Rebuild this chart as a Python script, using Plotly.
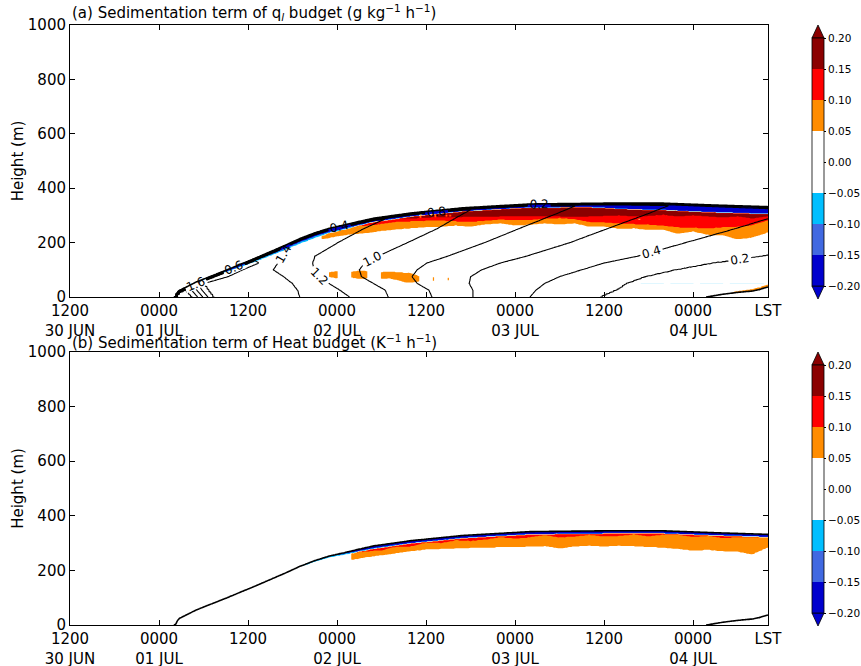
import numpy as np
import plotly.graph_objects as go

FONT = "DejaVu Sans"
T_END = 94.1  # hours after 1200 LST 30 JUN

# ---------------- axes / ticks ----------------
tick_hours = [0, 12, 24, 36, 48, 60, 72, 84, 94.09]
tick_labels = ["1200<br>30 JUN", "0000<br>01 JUL", "1200", "0000<br>02 JUL", "1200",
               "0000<br>03 JUL", "1200", "0000<br>04 JUL", "LST"]
height_ticks = [0, 200, 400, 600, 800, 1000]
cbar_ticks = [-0.20, -0.15, -0.10, -0.05, 0.00, 0.05, 0.10, 0.15, 0.20]

# ---------------- cloud boundary ----------------
top_t = [0, 14.2, 14.6, 17, 21, 25, 29, 31, 33, 35, 37, 39, 41, 46, 53, 62, 72, 80, 87, 94.1]
top_z = [-5, 0, 22, 55, 98, 143, 190, 215, 236, 253, 265, 278, 290, 309, 328, 342, 345, 345, 338, 332]
base_t = [0, 85.8, 88, 90, 92, 93, 94.1]
base_z = [-10, 0, 10, 17, 22, 28, 37]

# ---------------- contour-line field of panel (a): isoline times (h) at heights ----------------
iso_z = [0, 25, 50, 75, 100, 125, 150, 200, 250, 300, 350]
iso_levels = [2.6, 2.4, 2.2, 2.0, 1.8, 1.6, 1.4, 1.2, 1.0, 0.8, 0.6, 0.4, 0.2, 0.05]
iso_26 = [0, 0, 0, 0, 0, 0, 0, 0, 0, 0, 0]
iso_24 = [16.5, 15.7, 14.8, 14.0, 16.0, 16.0, 16.0, 16.0, 16.0, 16.0, 16.0]
iso_22 = [17.2, 16.4, 15.6, 15.0, 17.0, 17.0, 17.0, 17.0, 17.0, 17.0, 17.0]
iso_20 = [17.9, 17.1, 16.4, 16.0, 18.0, 18.0, 18.0, 18.0, 18.0, 18.0, 18.0]
iso_18 = [18.6, 17.8, 17.2, 17.0, 19.0, 19.0, 19.0, 19.0, 19.0, 19.0, 19.0]
iso_16 = [19.3, 18.6, 18.0, 21.3, 23.3, 25.5, 24.0, 20.0, 20.0, 20.0, 20.0]
iso_14 = [31.0, 30.7, 30.0, 28.8, 27.4, 28.0, 28.6, 29.9, 32.5, 36.0, 40.0]
iso_12 = [37.7, 36.4, 34.9, 33.5, 32.9, 32.7, 33.0, 36.1, 39.5, 43.5, 47.0]
iso_10 = [42.9, 42.5, 40.9, 39.3, 39.0, 39.7, 41.5, 45.5, 49.4, 52.6, 56.0]
iso_08 = [48.8, 48.4, 46.8, 46.1, 46.8, 48.1, 50.9, 55.9, 60.4, 65.0, 69.5]
iso_06 = [54.3, 54.3, 53.8, 54.0, 55.5, 58.0, 61.5, 67.4, 72.3, 77.3, 82.0]
iso_04 = [62.0, 62.8, 64.0, 66.0, 69.0, 72.0, 76.5, 83.0, 89.5, 95.5, 101.0]
iso_02 = [71.4, 73.5, 75.0, 77.5, 81.5, 86.5, 93.0, 105.0, 120.0, 135.0, 150.0]
iso_005 = [300] * 11
iso_table = [iso_26, iso_24, iso_22, iso_20, iso_18, iso_16, iso_14, iso_12,
             iso_10, iso_08, iso_06, iso_04, iso_02, iso_005]

# ---------------- shaded bands (heights of lower edges, m) ----------------
band_t = [32, 34, 36, 38, 40, 42, 44, 46, 48, 50, 52, 54, 56, 58, 60, 62,
          64, 66, 68, 70, 72, 74, 76, 78, 80, 82, 84, 86, 88, 90, 92, 94]
a_orange_lo = [999, 212, 222, 230, 235, 242, 248, 252, 256, 258, 262, 258, 266, 270, 262, 265,
               270, 266, 270, 258, 258, 250, 252, 246, 246, 232, 240, 228, 226, 212, 218, 236]
a_red_lo = [999, 999, 999, 258, 262, 268, 276, 278, 280, 281, 278, 276, 280, 285, 282, 283,
            288, 290, 286, 276, 274, 270, 268, 266, 262, 256, 255, 252, 256, 258, 264, 280]
a_dred_lo = [999, 999, 999, 268, 272, 280, 287, 289, 291, 293, 293, 295, 295, 296, 296, 297,
             297, 296, 295, 296, 298, 300, 296, 298, 302, 296, 300, 296, 292, 296, 288, 296]
b_orange_lo = [999, 999, 999, 238, 248, 255, 262, 270, 276, 278, 280, 282, 282, 285, 284, 287,
               288, 280, 287, 290, 287, 290, 288, 285, 283, 278, 272, 275, 270, 268, 258, 282]
# red dashes in panel (b): thickness (m) below the top of the positive layer
b_red_th = [0, 0, 0, 0, 4, 9, 3, 10, 2, 9, 4, 11, 9, 3, 11, 10,
            2, 12, 9, 3, 10, 8, 2, 9, 3, 2, 8, 2, 8, 3, 2, 0]

# negative layer just below cloud top (thickness, m)
blue_t = [16, 24, 28, 32, 36, 40, 50, 60, 70, 74, 78, 84, 90, 94]
a_mblue = [0, 8, 12, 14, 14, 13, 13, 13, 14, 20, 24, 26, 26, 26]
a_cyan = [0, 4, 5, 6, 4, 2, 1, 1, 2, 2, 2, 2, 2, 2]
b_mblue = [0, 0, 0, 0, 3, 8, 9, 9, 9, 9, 9, 9, 9, 9]
b_cyan = [0, 0, 0, 4, 4, 3, 2, 2, 2, 2, 2, 2, 2, 2]

# low-level orange streak in panel (a)
streak_t = [34, 35, 36, 37, 38, 39, 40, 41, 42, 43, 44, 45, 46, 47, 48, 49, 50, 51, 52, 53]
streak_lo = [999, 72, 68, 999, 70, 66, 68, 999, 66, 68, 62, 54, 52, 56, 999, 58, 999, 60, 999, 999]
streak_hi = [999, 92, 95, 999, 94, 98, 96, 999, 92, 94, 92, 90, 88, 78, 999, 74, 999, 72, 999, 999]
# faint dashed cyan trace near 48 m, panel (a)
cyl_t = [76, 77, 80, 80.5, 81, 84, 84.5, 85, 88, 88.5, 89, 93.5, 94]
cyl_lo = [999, 46.5, 46.5, 999, 46.5, 46.5, 999, 46.5, 46.5, 999, 46.5, 46.5, 999]
cyl_hi = [999, 49.0, 49.0, 999, 49.0, 49.0, 999, 49.0, 49.0, 999, 49.0, 49.0, 999]
# orange above the lifting cloud base, panel (a)
baseor_t = [88, 90, 92, 94]
baseor_th = [0, 5, 8, 8]

# ---------------- build grids ----------------
t_grid = np.append(np.arange(0, T_END, 0.25), T_END)
z_grid = np.concatenate([np.arange(0, 400, 2.0), [420, 1000]])
TT, ZZ = np.meshgrid(t_grid, z_grid)
h = np.interp(t_grid, top_t, top_z)[None, :]
base = np.interp(t_grid, base_t, base_z)[None, :]
inside = (ZZ <= h) & (ZZ >= base)


def on_t(arr, tt):
    return np.interp(t_grid, tt, arr)[None, :]


def fill_field(mb, cy, o_lo, r_lo=None, d_lo=None, r_th=None):
    S = np.zeros_like(ZZ)
    mb = on_t(mb, blue_t)
    cy = on_t(cy, blue_t)
    ptop = h - mb - cy
    S[(ZZ > h - mb)] = -0.175
    S[(ZZ > h - mb - cy) & (ZZ <= h - mb)] = -0.075
    S[(ZZ > on_t(o_lo, band_t)) & (ZZ <= ptop)] = 0.075
    if r_lo is not None:
        S[(ZZ > on_t(r_lo, band_t)) & (ZZ <= ptop)] = 0.125
    if r_th is not None:
        S[(ZZ > ptop - on_t(r_th, band_t)) & (ZZ <= ptop)] = 0.125
    if d_lo is not None:
        S[(ZZ > on_t(d_lo, band_t)) & (ZZ <= ptop)] = 0.175
    return S


Sa = fill_field(a_mblue, a_cyan, a_orange_lo, r_lo=a_red_lo, d_lo=a_dred_lo)
Sa[(ZZ > on_t(streak_lo, streak_t)) & (ZZ < on_t(streak_hi, streak_t))] = 0.075
Sa[(ZZ > on_t(cyl_lo, cyl_t)) & (ZZ < on_t(cyl_hi, cyl_t))] = -0.07
Sa[(ZZ >= base) & (ZZ < base + on_t(baseor_th, baseor_t))] = 0.075
Sa[~inside] = 0.0

Sb = fill_field(b_mblue, b_cyan, b_orange_lo, r_th=b_red_th)
Sb[~inside] = 0.0

# contour-line field (panel a)
iso_arr = np.array(iso_table)
C = np.zeros_like(ZZ)
for j, z in enumerate(z_grid):
    tpos = np.array([np.interp(z, iso_z, row) for row in iso_arr])
    C[j] = np.interp(t_grid, tpos, iso_levels)
C = C * np.clip((h - ZZ) / 8.0, 0, 1)
C[ZZ < base] = 0.0

# cloud boundary
B = np.minimum(h - ZZ, ZZ - base)

Sa = np.round(Sa, 3)
Sb = np.round(Sb, 3)
C = np.round(C, 3)
B = np.round(B, 2)

# ---------------- colours ----------------
cols10 = ['#0000cd', '#0000cd', '#4169e1', '#00bfff', '#ffffff', '#ffffff',
          '#ff8c00', '#ff0000', '#8b0000', '#8b0000']
fill_scale = []
for k, c in enumerate(cols10):
    lo = 0 if k == 0 else (k - 0.5) / 9
    hi = 1 if k == 9 else (k + 0.5) / 9
    fill_scale += [[lo, c], [hi, c]]
cols8 = cols10[1:9]
cb_scale = []
for k, c in enumerate(cols8):
    cb_scale += [[k / 8, c], [(k + 1) / 8, c]]

# ---------------- figure ----------------
W, H = 861, 666
ML, MR, MT, MB = 70, 93, 25, 41
PW, PH = W - ML - MR, H - MT - MB


def px2x(px):
    return (px - ML) / PW


def py2y(py):
    return (H - MB - py) / PH


ya = [py2y(297), 1.0]
yb = [0.0, py2y(352)]

fig = go.Figure()
common_fill = dict(x=t_grid, y=z_grid, showscale=False, hoverinfo='skip',
                   contours=dict(start=-0.2, end=0.2, size=0.05, coloring='fill', showlines=False),
                   colorscale=fill_scale, line=dict(width=0, smoothing=0.6))
fig.add_trace(go.Contour(z=Sa, xaxis='x', yaxis='y', **common_fill))
fig.add_trace(go.Contour(x=t_grid, y=z_grid, z=C, xaxis='x', yaxis='y', showscale=False,
                         hoverinfo='skip',
                         contours=dict(start=0.2, end=2.4, size=0.2, coloring='none',
                                       showlabels=True, labelformat='.1f',
                                       labelfont=dict(size=12, color='black', family=FONT)),
                         line=dict(color='black', width=1.1, smoothing=1)))
fig.add_trace(go.Contour(x=t_grid, y=z_grid, z=B, xaxis='x', yaxis='y', showscale=False,
                         hoverinfo='skip',
                         contours=dict(start=0, end=0, size=1, coloring='none'),
                         line=dict(color='black', width=1.6, smoothing=1)))
fig.add_trace(go.Contour(z=Sb, xaxis='x2', yaxis='y2', **common_fill))
fig.add_trace(go.Contour(x=t_grid, y=z_grid, z=B, xaxis='x2', yaxis='y2', showscale=False,
                         hoverinfo='skip',
                         contours=dict(start=0, end=0, size=1, coloring='none'),
                         line=dict(color='black', width=1.6, smoothing=1)))

cb_x = px2x(812)
for xa, yaname, cy_px in [('x', 'y', 162), ('x2', 'y2', 489)]:
    fig.add_trace(go.Scatter(
        x=[-50], y=[-50], xaxis=xa, yaxis=yaname, mode='markers', hoverinfo='skip',
        showlegend=False,
        marker=dict(color=[0], cmin=-0.2, cmax=0.2, colorscale=cb_scale, showscale=True,
                    colorbar=dict(x=cb_x, xanchor='left', xpad=0, y=py2y(cy_px), yanchor='middle',
                                  ypad=0, len=248, lenmode='pixels', thickness=12,
                                  thicknessmode='pixels', tickvals=cbar_ticks, tickformat='.2f',
                                  ticks='outside', ticklen=2, tickcolor='black',
                                  tickfont=dict(size=10.5, family=FONT, color='black'),
                                  outlinewidth=0.8, outlinecolor='black'))))

axis_common = dict(showline=True, linecolor='black', linewidth=1, mirror='ticks',
                   ticks='inside', ticklen=5, tickwidth=1, tickcolor='black',
                   tickfont=dict(size=15, family=FONT, color='black'),
                   showgrid=False, zeroline=False, automargin=False)
fig.update_layout(
    width=W, height=H, margin=dict(l=ML, r=MR, t=MT, b=MB, autoexpand=False),
    paper_bgcolor='white', plot_bgcolor='white', showlegend=False,
    font=dict(family=FONT, color='black'),
    xaxis=dict(domain=[0, 1], range=[0, T_END], anchor='y', tickvals=tick_hours,
               ticktext=tick_labels, **axis_common),
    yaxis=dict(domain=ya, range=[0, 1000], anchor='x', tickvals=height_ticks,
               title=dict(text='Height (m)', font=dict(size=15, family=FONT), standoff=0),
               **axis_common),
    xaxis2=dict(domain=[0, 1], range=[0, T_END], anchor='y2', tickvals=tick_hours,
                ticktext=tick_labels, **axis_common),
    yaxis2=dict(domain=yb, range=[0, 1000], anchor='x2', tickvals=height_ticks,
                title=dict(text='Height (m)', font=dict(size=15, family=FONT), standoff=0),
                **axis_common),
)

fig.add_annotation(text="(a) Sedimentation term of q<sub><i>l</i></sub> budget (g kg<sup>\u22121</sup> h<sup>\u22121</sup>)",
                   xref='paper', yref='paper', x=0, y=ya[1], xanchor='left', yanchor='bottom',
                   showarrow=False, font=dict(size=15, family=FONT, color='black'), yshift=0)
fig.add_annotation(text="(b) Sedimentation term of Heat budget (K<sup>\u22121</sup> h<sup>\u22121</sup>)",
                   xref='paper', yref='paper', x=0, y=yb[1], xanchor='left', yanchor='bottom',
                   showarrow=False, font=dict(size=15, family=FONT, color='black'), yshift=-2)

# colorbar extension triangles and band edges
shapes = []
x0, x1, xm = px2x(812), px2x(824), px2x(818)
for cy_px in (162, 489):
    top_b, bot_b = cy_px - 124, cy_px + 124
    shapes.append(dict(type='path', xref='paper', yref='paper',
                       path=f"M {x0},{py2y(top_b)} L {x1},{py2y(top_b)} L {xm},{py2y(top_b - 13)} Z",
                       fillcolor=cols10[9], line=dict(color='black', width=0.8), layer='above'))
    shapes.append(dict(type='path', xref='paper', yref='paper',
                       path=f"M {x0},{py2y(bot_b)} L {x1},{py2y(bot_b)} L {xm},{py2y(bot_b + 13)} Z",
                       fillcolor=cols10[0], line=dict(color='black', width=0.8), layer='above'))
    for v in cbar_ticks[1:-1]:
        yy = py2y(cy_px - v / 0.05 * 31)
        shapes.append(dict(type='line', xref='paper', yref='paper', x0=x0, x1=x1, y0=yy, y1=yy,
                           line=dict(color='#555555', width=0.8), layer='above'))
fig.update_layout(shapes=shapes)

fig.write_html("out.html", config={'displayModeBar': False},
               post_script="document.body.style.margin='0px';document.body.style.padding='0px';")
